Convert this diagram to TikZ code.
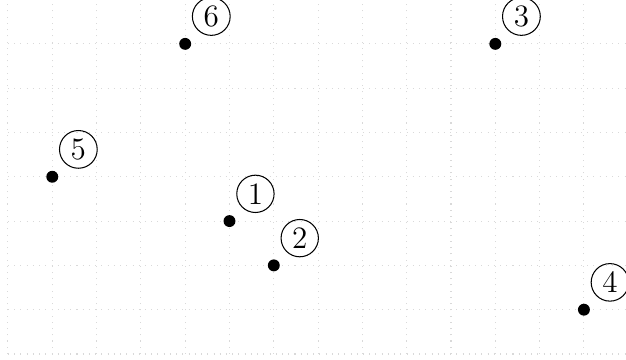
\documentclass[tikz,border=0pt]{standalone}
\usepackage{tikz}
\usetikzlibrary{positioning}

\begin{document}
\begin{tikzpicture}[x=0.6cm, y=0.6cm,
  every node/.style={inner sep=2pt},
  gridline/.style={gray!30, dotted, thin},
  pt/.style={circle, fill=black, inner sep=0pt, minimum size=4.6pt},
  num/.style={circle, draw, thin, inner sep=1.6pt, font=\large}]
\useasboundingbox (-0.18,-0.135) rectangle (13.95,7.99);
\draw[gridline, step=1] (0,0) grid (14,8);
\node[pt] (p1) at (5,3) {};
\node[pt] (p2) at (6,2) {};
\node[pt] (p3) at (11,7) {};
\node[pt] (p4) at (13,1) {};
\node[pt] (p5) at (1,4) {};
\node[pt] (p6) at (4,7) {};
\node[num, above right=3.5pt and 3pt of p1] (n1) {1};
\node[num, above right=3.5pt and 3pt of p2] (n2) {2};
\node[num, above right=3.5pt and 3pt of p3] (n3) {3};
\node[num, above right=3.5pt and 3pt of p4] (n4) {4};
\node[num, above right=3.5pt and 3pt of p5] (n5) {5};
\node[num, above right=3.5pt and 3pt of p6] (n6) {6};
\end{tikzpicture}
\end{document}
